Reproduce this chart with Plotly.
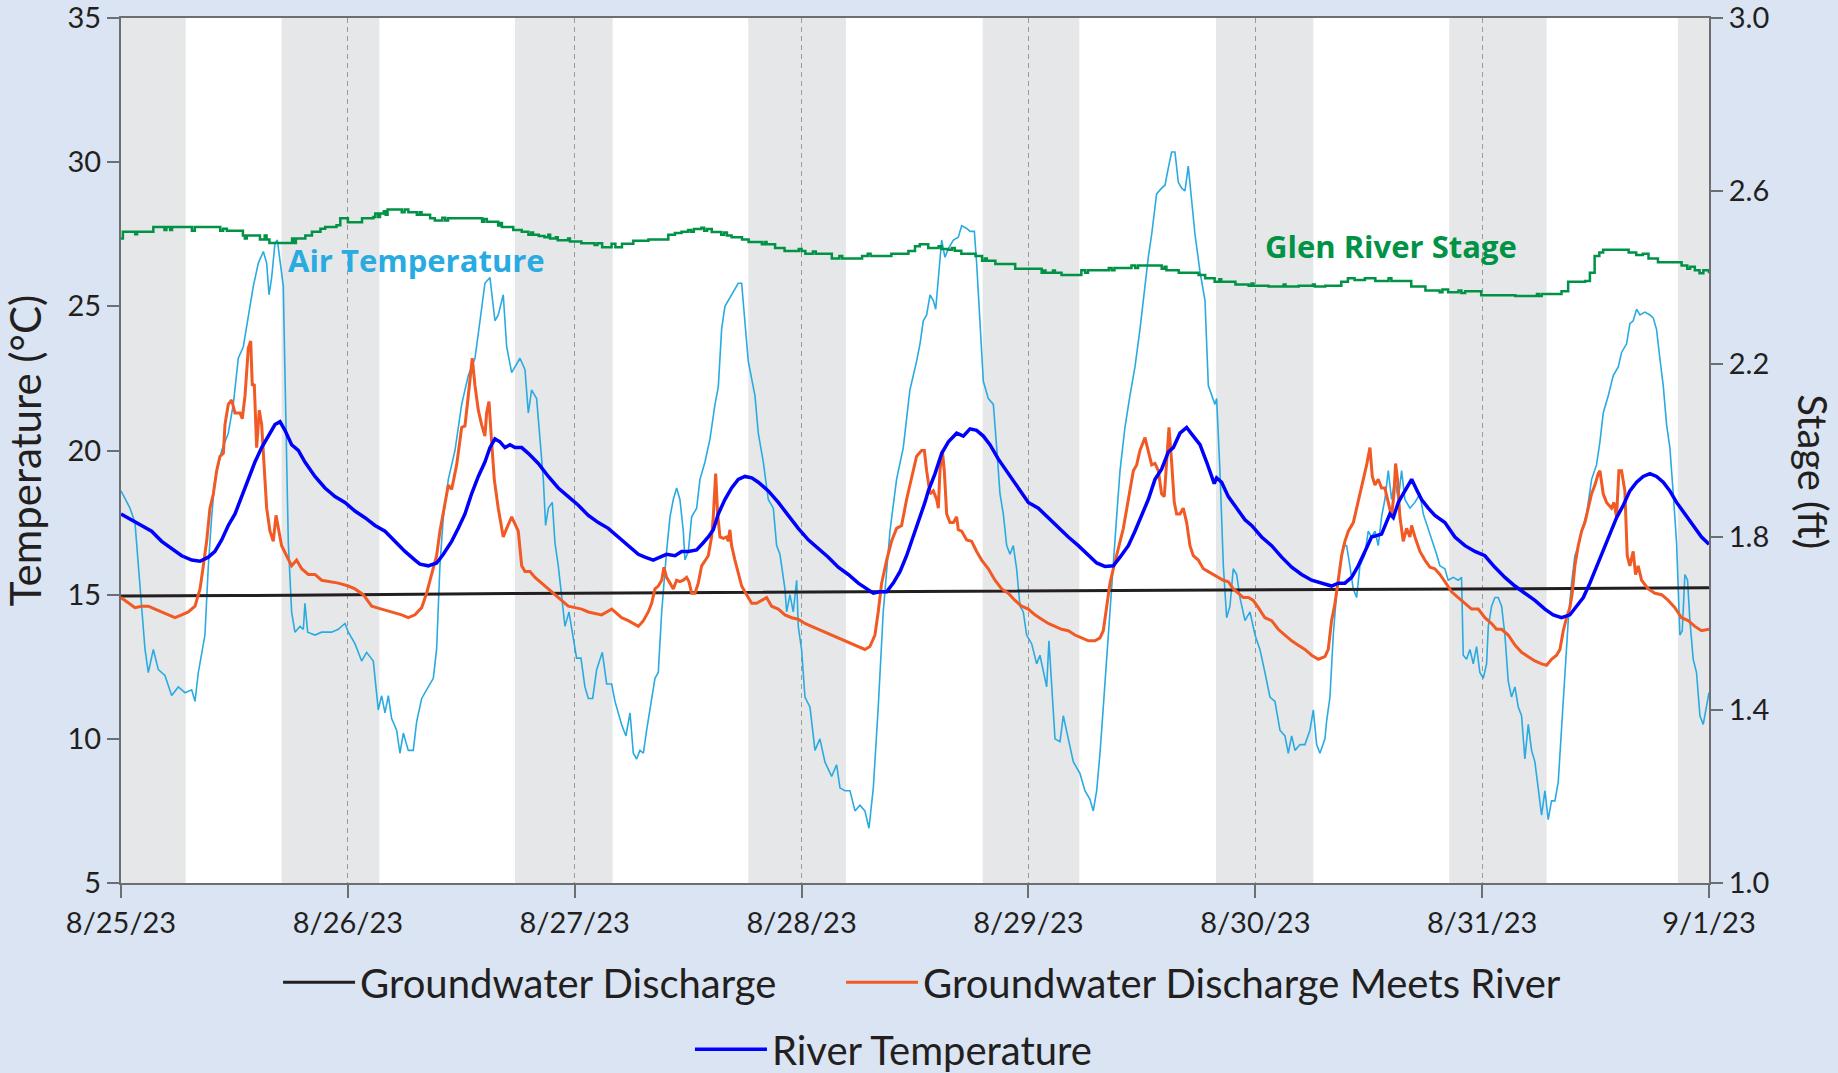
import pandas as pd
import plotly.graph_objects as go

START = pd.Timestamp("2023-08-25 00:00")

# ---------------- data (hours since 8/25/23 00:00, values) ----------------
air_hours = [0.0, 0.95, 1.48, 1.83, 2.19, 2.54, 2.89, 3.42, 3.95, 4.65, 5.36, 6.06, 6.77, 7.48, 7.83, 8.18, 8.88, 9.24, 9.59, 9.94,
             10.65, 11.35, 11.88, 12.41, 12.94, 13.47, 14.0, 14.53, 15.06, 15.41, 15.66, 15.94, 16.29, 16.54, 16.82, 17.17, 17.35, 17.52, 17.7, 18.05,
             18.4, 18.93, 19.29, 19.46, 19.75, 20.52, 21.23, 22.28, 22.99, 23.69, 24.05, 24.75, 25.46, 25.99, 26.69, 27.22, 27.57, 27.93, 28.28, 28.63,
             29.16, 29.51, 29.87, 30.39, 30.92, 31.28, 31.81, 32.51, 33.04, 33.39, 33.74, 34.1, 34.63, 35.33, 36.04, 36.74, 37.45, 37.98, 38.5, 39.03,
             39.56, 39.91, 40.44, 40.8, 41.33, 42.21, 42.74, 43.09, 43.44, 43.97, 44.32, 44.68, 44.92, 45.21, 45.63, 45.91, 46.26, 46.62, 46.97, 47.39,
             47.85, 48.2, 48.66, 49.08, 49.44, 49.9, 50.32, 50.92, 51.38, 51.91, 52.26, 52.96, 53.42, 53.85, 54.2, 54.55, 54.9, 55.26, 55.61, 56.14,
             56.49, 56.84, 57.2, 57.72, 58.08, 58.43, 58.78, 59.13, 59.49, 59.66, 60.02, 60.37, 60.9, 61.25, 61.78, 62.31, 62.84, 63.19, 63.54, 63.89,
             64.25, 64.78, 65.3, 65.66, 66.01, 66.36, 66.89, 67.07, 67.42, 67.95, 68.48, 69.01, 69.36, 69.71, 70.24, 70.42, 70.77, 71.12, 71.48, 71.65,
             72.0, 72.36, 72.89, 73.42, 73.94, 74.47, 75.18, 75.71, 76.06, 76.59, 77.12, 77.65, 78.17, 78.7, 79.13, 79.59, 80.11, 80.64, 81.35, 82.05,
             82.76, 83.46, 84.17, 84.53, 84.88, 85.23, 85.59, 85.94, 86.19, 86.47, 86.82, 87.17, 87.53, 88.06, 88.58, 88.94, 89.47, 89.82, 90.28, 90.52,
             90.88, 91.23, 91.76, 92.29, 92.64, 92.99, 93.34, 93.7, 94.05, 94.4, 94.75, 95.11, 95.46, 95.81, 96.34, 96.87, 97.22, 97.58, 97.93, 98.17,
             98.46, 98.81, 99.34, 99.69, 100.22, 100.75, 101.45, 101.98, 102.51, 102.86, 103.22, 103.57, 103.92, 104.27, 104.63, 104.98, 105.33, 105.69, 106.21, 106.74,
             107.27, 107.8, 108.33, 108.68, 109.04, 109.56, 110.09, 110.45, 110.8, 111.15, 111.5, 111.86, 112.21, 112.56, 112.91, 113.27, 113.62, 114.15, 114.68, 115.03,
             115.38, 115.73, 115.91, 116.26, 116.62, 116.97, 117.32, 117.67, 118.03, 118.38, 118.91, 119.44, 119.97, 120.49, 121.02, 121.55, 122.08, 122.61, 123.14, 123.49,
             123.85, 124.2, 124.73, 125.25, 125.78, 126.14, 126.49, 126.84, 127.37, 127.54, 127.9, 128.25, 128.6, 128.95, 129.31, 129.66, 130.01, 130.36, 130.72, 131.07,
             131.6, 131.95, 132.3, 132.66, 133.01, 133.36, 133.71, 134.07, 134.42, 134.77, 135.13, 135.48, 135.83, 136.36, 136.89, 137.42, 137.77, 138.3, 138.83, 139.18,
             139.53, 140.06, 140.41, 140.94, 141.47, 141.82, 142.0, 142.35, 142.71, 143.06, 143.41, 143.76, 144.12, 144.47, 144.65, 145.0, 145.35, 145.7, 146.06, 146.41,
             146.76, 147.11, 147.47, 147.82, 148.17, 148.52, 148.88, 149.23, 149.58, 149.93, 150.29, 150.64, 150.99, 151.34, 151.7, 152.05, 152.4, 152.76, 153.11, 153.46,
             153.81, 154.17, 154.52, 155.05, 155.58, 156.1, 156.46, 156.81, 157.34, 157.87, 158.4, 158.75, 159.28, 159.63, 159.98, 160.34, 160.69, 161.22, 161.75, 162.1,
             162.45, 162.8, 163.16, 163.51, 163.86, 164.22, 164.57, 164.92, 165.17, 165.45, 165.73, 165.98, 166.33, 166.68, 167.04, 167.39, 167.74, 168.0]
air_temp = [18.6, 18.0, 17.5, 16.0, 14.4, 13.1, 12.3, 13.1, 12.4, 12.2, 11.5, 11.8, 11.6, 11.7, 11.3, 12.3, 13.6, 16.0, 17.7, 19.0,
            20.0, 20.6, 21.6, 23.2, 23.6, 24.7, 25.7, 26.5, 26.9, 26.5, 25.4, 26.0, 27.2, 27.3, 26.5, 25.7, 22.6, 19.3, 16.8, 14.4,
            13.7, 13.9, 13.8, 14.7, 13.7, 13.6, 13.7, 13.7, 13.8, 14.0, 13.7, 13.3, 12.7, 13.0, 12.7, 11.0, 11.5, 10.9, 11.5, 10.7,
            10.3, 9.5, 10.2, 9.6, 9.6, 10.6, 11.4, 11.8, 12.1, 13.1, 16.0, 17.7, 19.0, 20.0, 21.6, 22.6, 23.2, 24.5, 25.8, 26.0,
            24.5, 24.7, 25.4, 23.6, 22.7, 23.2, 22.8, 21.3, 22.1, 21.8, 20.3, 19.0, 17.4, 18.0, 18.2, 16.8, 16.0, 15.0, 13.9, 14.4,
            13.4, 12.8, 12.8, 11.8, 11.4, 11.4, 12.4, 13.0, 11.9, 11.9, 11.3, 10.5, 10.1, 10.9, 9.5, 9.3, 9.6, 9.5, 10.3, 11.45,
            12.1, 12.3, 14.4, 16.5, 17.7, 18.3, 18.7, 18.3, 17.2, 16.2, 16.5, 17.7, 18.0, 19.0, 19.6, 20.4, 21.6, 22.2, 24.2, 25.0,
            25.2, 25.5, 25.8, 25.8, 24.5, 23.1, 22.2, 21.9, 20.6, 19.6, 18.3, 18.0, 16.7, 16.4, 15.2, 14.4, 15.0, 14.4, 15.5, 13.9,
            13.1, 11.45, 11.1, 9.6, 10.0, 9.2, 8.7, 9.1, 8.3, 8.2, 8.2, 7.5, 7.7, 7.5, 6.9, 8.3, 11.1, 14.4, 17.2, 19.0,
            20.1, 22.1, 23.1, 23.7, 24.5, 24.7, 25.4, 25.2, 24.9, 26.0, 27.3, 26.7, 27.0, 27.3, 27.4, 27.8, 27.7, 27.6, 27.6, 26.5,
            24.2, 22.4, 21.8, 21.6, 20.1, 18.5, 17.8, 16.7, 16.4, 16.7, 15.9, 14.6, 14.4, 13.6, 13.3, 12.6, 12.9, 12.3, 11.8, 13.4,
            12.0, 10.0, 9.9, 10.8, 10.0, 9.2, 8.8, 8.2, 7.9, 7.5, 8.2, 9.5, 11.1, 12.8, 14.4, 16.0, 17.7, 19.3, 20.8, 21.9,
            22.9, 24.2, 25.85, 26.7, 27.5, 28.9, 29.1, 29.2, 29.8, 30.35, 30.35, 29.3, 29.1, 29.0, 29.86, 28.6, 27.5, 26.2, 25.2, 22.25,
            21.9, 21.6, 21.8, 19.3, 16.0, 14.2, 14.6, 15.9, 15.7, 14.9, 14.1, 14.4, 13.6, 13.1, 12.3, 11.45, 11.3, 10.3, 10.1, 9.5,
            10.1, 9.6, 9.8, 9.8, 10.3, 11.0, 9.8, 9.5, 10.0, 10.6, 11.45, 13.6, 15.05, 16.0, 16.7, 16.7, 16.0, 15.2, 14.9, 16.0,
            16.4, 17.2, 17.0, 17.2, 16.7, 17.7, 18.3, 19.3, 18.3, 19.0, 18.3, 19.3, 18.3, 18.0, 18.2, 18.5, 17.8, 17.3, 16.8, 16.4,
            16.0, 15.9, 15.5, 15.6, 15.5, 15.6, 12.9, 12.76, 13.1, 12.6, 13.2, 12.3, 12.1, 12.6, 13.9, 14.6, 14.9, 14.9, 14.6, 13.6,
            12.0, 11.45, 11.8, 11.1, 10.8, 9.3, 10.5, 9.6, 9.2, 8.2, 7.35, 8.2, 7.2, 7.85, 7.85, 8.5, 10.3, 12.0, 14.1, 15.4,
            16.35, 16.7, 17.2, 17.8, 19.0, 19.5, 20.3, 21.3, 21.9, 22.6, 22.9, 23.4, 23.7, 24.4, 24.5, 24.9, 24.7, 24.8, 24.7, 24.6,
            24.2, 23.2, 22.25, 20.9, 20.1, 18.5, 16.8, 13.6, 13.75, 15.7, 15.5, 14.1, 12.76, 12.3, 10.8, 10.5, 11.1, 11.6]

gw_hours = [0, 6, 12, 18, 24, 30, 36, 42, 48, 54, 60, 66, 72, 78, 84, 90, 96, 102, 108, 114, 120, 126, 132, 138, 144, 150, 156, 162, 168]
gw_temp = [14.95, 14.95, 14.97, 14.98, 15.0, 15.02, 15.03, 15.04, 15.05, 15.06, 15.06, 15.08, 15.08, 15.1, 15.1, 15.12, 15.12, 15.13, 15.15,
           15.16, 15.18, 15.18, 15.2, 15.21, 15.22, 15.22, 15.23, 15.24, 15.24]

meet_hours = [0.0, 0.78, 1.48, 2.19, 2.89, 3.6, 4.3, 5.01, 5.71, 6.42, 7.12, 7.83, 8.36, 8.71, 9.06, 9.41, 9.77, 10.12, 10.47, 10.83,
              11.0, 11.35, 11.71, 12.06, 12.59, 12.83, 13.12, 13.47, 13.72, 13.89, 14.1, 14.35, 14.63, 14.88, 15.16, 15.41, 15.76, 16.11, 16.4, 16.64,
              16.99, 17.52, 18.05, 18.58, 19.11, 19.82, 20.52, 21.23, 22.11, 22.99, 24.05, 24.75, 25.63, 26.52, 27.57, 28.63, 29.69, 30.39, 31.1, 31.81,
              32.33, 32.86, 33.39, 33.74, 34.1, 34.63, 34.98, 35.51, 36.04, 36.39, 36.74, 37.02, 37.16, 37.45, 37.8, 38.15, 38.5, 38.68, 38.93, 39.21,
              39.49, 39.91, 40.44, 40.8, 41.33, 42.03, 42.39, 42.74, 43.27, 43.8, 44.5, 45.21, 45.91, 46.62, 47.32, 48.03, 48.73, 49.44, 50.14, 50.85,
              51.38, 51.91, 52.26, 52.96, 53.67, 54.2, 54.73, 55.26, 55.78, 56.14, 56.49, 56.84, 57.2, 57.44, 57.72, 58.08, 58.43, 58.78, 59.13, 59.49,
              59.84, 60.09, 60.37, 60.72, 61.07, 61.43, 61.78, 62.13, 62.48, 62.66, 62.91, 63.12, 63.37, 63.72, 64.07, 64.25, 64.42, 64.6, 64.95, 65.3,
              65.66, 66.19, 66.72, 67.24, 67.77, 68.3, 68.83, 69.54, 70.24, 70.95, 71.65, 72.36, 73.06, 73.77, 74.47, 75.18, 75.88, 76.59, 77.29, 78.0,
              78.7, 79.23, 79.76, 80.11, 80.47, 81.0, 81.52, 82.05, 82.58, 83.11, 83.64, 84.17, 84.7, 84.99, 85.23, 85.59, 85.94, 86.29, 86.47, 86.64,
              86.89, 87.1, 87.35, 87.7, 88.06, 88.41, 88.58, 88.94, 89.47, 89.99, 90.52, 91.05, 91.76, 92.46, 93.17, 93.87, 94.58, 95.28, 95.99, 96.69,
              97.4, 98.1, 98.81, 99.51, 100.22, 100.92, 101.63, 102.34, 103.04, 103.57, 103.92, 104.27, 104.63, 104.98, 105.33, 105.69, 106.04, 106.57, 107.1, 107.45,
              107.8, 108.33, 108.68, 109.04, 109.39, 109.74, 110.09, 110.37, 110.62, 110.87, 111.15, 111.43, 111.68, 112.03, 112.38, 112.74, 113.09, 113.44, 113.97, 114.5,
              115.03, 115.56, 116.09, 116.62, 117.15, 117.67, 118.2, 118.73, 119.26, 119.79, 120.32, 121.02, 121.73, 122.43, 123.14, 123.85, 124.55, 125.25, 125.96, 126.67,
              127.37, 127.72, 128.07, 128.43, 128.78, 129.13, 129.48, 129.84, 130.37, 130.89, 131.42, 131.78, 132.13, 132.38, 132.66, 133.01, 133.36, 133.71, 134.07, 134.42,
              134.67, 134.84, 135.05, 135.3, 135.65, 136.01, 136.36, 136.54, 136.89, 137.42, 137.95, 138.48, 139.0, 139.53, 140.06, 140.77, 141.47, 142.18, 142.88, 143.59,
              144.29, 145.0, 145.53, 146.06, 146.76, 147.47, 148.17, 148.88, 149.58, 150.29, 150.82, 151.34, 151.87, 152.23, 152.58, 152.93, 153.28, 153.53, 153.81, 154.17,
              154.52, 154.87, 155.22, 155.58, 155.93, 156.28, 156.46, 156.81, 157.16, 157.69, 157.94, 158.22, 158.47, 158.75, 159.1, 159.35, 159.63, 159.98, 160.23, 160.51,
              160.87, 161.57, 162.28, 162.98, 163.69, 164.39, 165.1, 165.8, 166.51, 167.21, 168.0]
meet_temp = [14.9, 14.7, 14.55, 14.6, 14.6, 14.5, 14.4, 14.3, 14.2, 14.3, 14.4, 14.6, 15.2, 16.0, 16.85, 18.0, 18.5, 19.3, 19.8, 19.9,
             20.9, 21.6, 21.75, 21.3, 21.3, 21.1, 21.9, 23.55, 23.8, 22.25, 22.3, 20.1, 21.4, 20.9, 19.3, 18.0, 17.2, 16.85, 17.75, 17.3,
             16.7, 16.35, 16.0, 16.2, 15.9, 15.7, 15.7, 15.5, 15.45, 15.4, 15.3, 15.2, 15.0, 14.6, 14.5, 14.4, 14.3, 14.2, 14.3, 14.55,
             15.05, 15.7, 16.35, 17.2, 17.8, 18.8, 18.65, 19.5, 20.8, 20.85, 21.9, 22.7, 23.2, 22.25, 21.4, 20.9, 20.5, 21.3, 21.7, 20.3,
             19.0, 18.0, 17.0, 17.3, 17.7, 17.2, 16.0, 15.8, 15.8, 15.6, 15.4, 15.2, 15.0, 14.8, 14.6, 14.55, 14.5, 14.4, 14.35, 14.3,
             14.4, 14.5, 14.4, 14.2, 14.1, 14.0, 13.9, 14.1, 14.4, 14.7, 15.2, 15.3, 15.5, 15.95, 15.6, 15.4, 15.2, 15.5, 15.45, 15.5,
             15.6, 15.45, 15.05, 15.05, 15.4, 16.0, 16.2, 16.35, 17.0, 17.7, 19.2, 17.8, 17.0, 16.95, 17.0, 16.85, 17.25, 16.7, 16.2, 15.7,
             15.3, 15.0, 14.7, 14.7, 14.8, 14.9, 14.6, 14.5, 14.3, 14.2, 14.15, 14.0, 13.9, 13.8, 13.7, 13.6, 13.5, 13.4, 13.3, 13.2,
             13.1, 13.2, 13.6, 14.4, 15.4, 16.2, 16.85, 17.3, 17.4, 18.3, 19.0, 19.8, 20.0, 20.0, 19.3, 18.5, 18.6, 18.3, 18.0, 19.3,
             20.0, 19.3, 17.8, 17.5, 17.5, 17.7, 17.25, 17.2, 16.9, 16.85, 16.5, 16.2, 15.9, 15.5, 15.2, 15.05, 14.8, 14.6, 14.5, 14.3,
             14.15, 14.0, 13.9, 13.8, 13.75, 13.6, 13.5, 13.4, 13.4, 13.5, 13.75, 14.55, 15.4, 15.9, 16.35, 16.85, 17.3, 18.3, 19.3, 19.5,
             20.0, 20.45, 20.0, 19.5, 19.55, 19.3, 18.5, 18.4, 19.6, 20.8, 19.6, 18.2, 17.8, 17.8, 18.0, 17.5, 16.7, 16.35, 16.2, 15.9,
             15.8, 15.7, 15.6, 15.5, 15.45, 15.2, 15.05, 14.9, 14.9, 14.8, 14.55, 14.2, 14.1, 13.8, 13.6, 13.4, 13.25, 13.1, 12.9, 12.76,
             12.85, 13.1, 14.1, 14.7, 15.5, 16.35, 16.85, 17.2, 17.5, 18.2, 19.0, 19.5, 20.1, 19.1, 18.8, 19.0, 18.7, 18.7, 18.2, 17.7,
             18.5, 19.55, 19.0, 17.7, 16.85, 17.3, 17.0, 17.4, 17.0, 16.5, 16.2, 15.95, 15.9, 15.7, 15.45, 15.1, 14.9, 14.7, 14.5, 14.5,
             14.2, 14.0, 13.8, 13.8, 13.6, 13.25, 13.0, 12.85, 12.7, 12.6, 12.55, 12.76, 12.9, 13.1, 13.75, 14.2, 14.55, 15.05, 16.0, 16.7,
             17.2, 17.5, 18.0, 18.5, 18.8, 19.2, 19.3, 18.5, 18.2, 18.0, 18.2, 17.7, 19.3, 19.3, 18.6, 16.35, 16.0, 16.5, 15.7, 16.0,
             15.5, 15.2, 15.05, 15.0, 14.8, 14.55, 14.2, 14.1, 13.9, 13.75, 13.8]

river_hours = [0.0, 1.13, 2.19, 3.24, 4.3, 5.36, 6.42, 7.48, 8.36, 9.24, 9.94, 10.65, 11.35, 12.06, 12.76, 13.47, 14.17, 14.88, 15.59, 16.29,
               16.82, 17.35, 18.05, 18.76, 19.46, 20.52, 21.58, 22.64, 23.69, 24.75, 25.81, 26.87, 27.93, 28.98, 30.04, 31.1, 31.63, 32.51, 33.39, 34.1,
               34.98, 35.68, 36.39, 37.09, 37.8, 38.5, 39.03, 39.56, 40.09, 40.62, 41.15, 41.68, 42.39, 43.09, 44.15, 45.21, 46.26, 47.32, 48.38, 49.44,
               50.5, 51.55, 52.61, 53.67, 54.73, 55.43, 56.31, 57.02, 57.72, 58.61, 59.31, 60.02, 60.9, 61.6, 62.13, 62.66, 63.19, 63.89, 64.6, 65.3,
               66.01, 66.72, 67.42, 68.48, 69.54, 70.59, 71.65, 72.71, 73.77, 74.83, 75.88, 76.94, 78.0, 78.88, 79.59, 80.29, 81.0, 81.7, 82.41, 83.11,
               83.82, 84.52, 85.05, 85.41, 86.12, 86.82, 87.53, 88.41, 89.11, 89.82, 90.52, 91.23, 91.93, 92.82, 93.87, 94.93, 95.99, 97.05, 98.1, 99.16,
               100.22, 101.28, 102.34, 103.22, 104.1, 104.98, 105.69, 106.57, 107.27, 107.98, 108.68, 109.39, 110.09, 110.8, 111.33, 112.03, 112.74, 113.44, 114.15, 114.85,
               115.38, 115.66, 115.91, 116.44, 117.15, 118.03, 118.91, 119.61, 120.67, 121.73, 122.79, 123.85, 124.9, 125.96, 127.02, 128.07, 128.78, 129.48, 130.19, 130.89,
               131.6, 132.3, 133.36, 133.89, 134.24, 134.6, 135.13, 135.83, 136.54, 137.06, 137.59, 138.3, 139.0, 140.06, 141.12, 142.18, 143.24, 144.29, 145.35, 146.41,
               147.47, 148.52, 149.58, 150.64, 151.52, 152.4, 153.28, 153.99, 154.7, 155.4, 156.1, 156.81, 157.52, 158.22, 158.93, 159.63, 160.34, 161.04, 161.75, 162.45,
               163.16, 163.86, 164.57, 165.45, 166.33, 167.21, 168.0]
river_temp = [17.8, 17.6, 17.4, 17.2, 16.85, 16.6, 16.35, 16.2, 16.16, 16.3, 16.5, 16.9, 17.4, 17.8, 18.4, 19.0, 19.6, 20.1, 20.5, 20.9,
              21.0, 20.7, 20.2, 20.0, 19.6, 19.1, 18.7, 18.4, 18.2, 17.9, 17.67, 17.4, 17.2, 16.85, 16.5, 16.2, 16.06, 16.0, 16.1, 16.4,
              16.85, 17.3, 17.8, 18.5, 19.1, 19.6, 20.1, 20.4, 20.3, 20.1, 20.2, 20.1, 20.1, 19.9, 19.55, 19.1, 18.7, 18.4, 18.1, 17.75,
              17.5, 17.3, 17.0, 16.7, 16.4, 16.3, 16.2, 16.3, 16.4, 16.35, 16.5, 16.5, 16.55, 16.8, 17.0, 17.25, 17.8, 18.3, 18.7, 19.0,
              19.1, 19.05, 18.9, 18.6, 18.2, 17.75, 17.3, 16.9, 16.6, 16.3, 15.95, 15.7, 15.4, 15.2, 15.05, 15.1, 15.1, 15.4, 15.8, 16.35,
              17.0, 17.67, 18.2, 18.6, 19.2, 19.9, 20.3, 20.6, 20.5, 20.75, 20.7, 20.5, 20.2, 19.7, 19.2, 18.7, 18.2, 18.0, 17.67, 17.3,
              17.0, 16.7, 16.35, 16.1, 15.98, 16.0, 16.3, 16.7, 17.2, 17.75, 18.3, 19.0, 19.35, 19.95, 20.1, 20.6, 20.8, 20.5, 20.2, 19.6,
              19.1, 18.85, 19.05, 18.9, 18.4, 18.0, 17.6, 17.4, 17.0, 16.7, 16.3, 15.95, 15.7, 15.5, 15.4, 15.3, 15.4, 15.4, 15.6, 16.0,
              16.5, 17.0, 17.1, 17.5, 17.8, 17.67, 18.2, 18.6, 19.0, 18.65, 18.3, 18.0, 17.75, 17.5, 17.0, 16.7, 16.5, 16.35, 15.95, 15.6,
              15.3, 15.05, 14.8, 14.5, 14.3, 14.2, 14.3, 14.6, 14.9, 15.4, 15.95, 16.5, 17.1, 17.67, 18.1, 18.6, 18.9, 19.1, 19.2, 19.1,
              18.9, 18.6, 18.2, 17.8, 17.4, 17.0, 16.75]

stage_hours = [0.0, 0.2, 1.5, 1.7, 3.42, 4.6, 4.8, 5.2, 5.4, 7.5, 7.8, 10.5, 10.8, 11.2, 12.9, 13.1, 13.3, 14.7, 15.2, 15.4,
               15.7, 18.1, 18.3, 18.5, 19.5, 20.2, 21.1, 21.6, 22.8, 23.2, 24.0, 25.5, 26.7, 26.9, 27.2, 27.4, 27.8, 28.0, 28.2, 29.7,
               30.0, 30.4, 31.3, 31.6, 31.8, 32.7, 33.2, 34.0, 34.3, 34.6, 38.2, 38.4, 38.7, 39.9, 40.1, 40.3, 41.5, 42.4, 43.1, 43.4,
               43.6, 44.2, 44.8, 45.2, 45.4, 46.0, 46.2, 47.3, 47.5, 48.7, 50.1, 50.4, 50.9, 51.9, 52.3, 53.0, 54.2, 55.8, 57.9, 58.6,
               59.3, 60.0, 60.3, 60.6, 61.4, 61.7, 62.0, 62.5, 63.5, 63.8, 64.1, 64.6, 65.7, 66.4, 67.8, 68.1, 68.3, 69.2, 70.2, 71.7,
               72.0, 72.4, 73.2, 73.5, 75.2, 76.0, 76.3, 78.4, 79.0, 79.3, 81.5, 83.3, 84.0, 84.5, 85.4, 86.5, 86.8, 87.5, 87.9, 88.2,
               88.9, 90.4, 91.1, 91.4, 91.6, 92.5, 94.6, 97.4, 97.6, 97.8, 98.6, 98.8, 99.5, 101.6, 102.0, 102.3, 104.5, 104.8, 105.1, 106.9,
               107.3, 107.6, 110.1, 110.4, 110.6, 111.9, 114.0, 114.7, 115.7, 116.2, 116.4, 117.9, 119.3, 119.6, 119.8, 121.4, 123.0, 123.2, 124.6, 126.1,
               126.3, 127.4, 129.1, 129.8, 130.5, 131.6, 132.7, 134.1, 134.4, 136.5, 138.0, 139.5, 139.8, 140.4, 141.5, 141.8, 142.2, 143.9, 147.5, 149.8,
               150.0, 150.3, 152.4, 153.1, 154.9, 155.4, 155.9, 156.4, 156.8, 159.5, 160.3, 161.0, 161.6, 162.6, 165.1, 165.7, 166.0, 166.5, 167.0, 167.4,
               168.0]
stage_ft = [2.49, 2.506, 2.5, 2.506, 2.517, 2.51, 2.517, 2.51, 2.517, 2.508, 2.517, 2.508, 2.513, 2.508, 2.497, 2.49, 2.497, 2.488, 2.497, 2.488,
            2.48, 2.49, 2.48, 2.49, 2.497, 2.506, 2.513, 2.517, 2.521, 2.537, 2.528, 2.537, 2.54, 2.548, 2.54, 2.548, 2.553, 2.545, 2.557, 2.551,
            2.557, 2.551, 2.545, 2.551, 2.545, 2.537, 2.532, 2.538, 2.532, 2.537, 2.529, 2.535, 2.529, 2.52, 2.526, 2.517, 2.51, 2.506, 2.499, 2.504,
            2.499, 2.496, 2.493, 2.499, 2.49, 2.493, 2.486, 2.49, 2.483, 2.479, 2.475, 2.479, 2.47, 2.478, 2.47, 2.478, 2.485, 2.488, 2.499, 2.503,
            2.506, 2.51, 2.506, 2.512, 2.515, 2.508, 2.512, 2.505, 2.499, 2.504, 2.497, 2.493, 2.488, 2.482, 2.477, 2.482, 2.477, 2.468, 2.461, 2.466,
            2.461, 2.455, 2.46, 2.455, 2.444, 2.45, 2.444, 2.45, 2.455, 2.45, 2.455, 2.461, 2.472, 2.477, 2.468, 2.472, 2.466, 2.464, 2.468, 2.462,
            2.455, 2.45, 2.439, 2.444, 2.439, 2.431, 2.42, 2.411, 2.416, 2.411, 2.416, 2.411, 2.406, 2.417, 2.411, 2.417, 2.422, 2.417, 2.422, 2.428,
            2.422, 2.428, 2.42, 2.425, 2.417, 2.411, 2.406, 2.398, 2.39, 2.396, 2.39, 2.384, 2.381, 2.386, 2.381, 2.379, 2.384, 2.379, 2.381, 2.384,
            2.379, 2.381, 2.39, 2.398, 2.394, 2.398, 2.392, 2.398, 2.392, 2.379, 2.37, 2.366, 2.372, 2.366, 2.37, 2.364, 2.368, 2.359, 2.357, 2.362,
            2.357, 2.362, 2.368, 2.39, 2.392, 2.411, 2.45, 2.458, 2.464, 2.458, 2.452, 2.455, 2.444, 2.435, 2.428, 2.42, 2.425, 2.417, 2.41, 2.417,
            2.41]

night_start_h = [0.0, 16.99, 41.68, 66.36, 91.16, 115.84, 140.52, 164.7]
night_end_h = [6.84, 27.33, 52.01, 76.69, 101.38, 126.14, 150.82, 168.0]

date_ticks = ["8/25/23", "8/26/23", "8/27/23", "8/28/23", "8/29/23", "8/30/23", "8/31/23", "9/1/23"]


def to_time(hours):
    return START + pd.to_timedelta(pd.Series(hours, dtype=float), unit="h")


FONT = "Lato"
TXT = "#231F20"
AXC = "#6D6E71"

fig = go.Figure()

fig.add_trace(go.Scatter(x=to_time(air_hours), y=air_temp, mode="lines", name="Air Temperature",
                         line=dict(color="#29ABE2", width=1.6), showlegend=False))
fig.add_trace(go.Scatter(x=to_time(stage_hours), y=stage_ft, mode="lines", name="Glen River Stage",
                         line=dict(color="#009245", width=2.5, shape="hv"), yaxis="y2", showlegend=False))
fig.add_trace(go.Scatter(x=to_time(gw_hours), y=gw_temp, mode="lines", name="Groundwater Discharge",
                         line=dict(color=TXT, width=3), legend="legend", legendwidth=476))
fig.add_trace(go.Scatter(x=to_time(meet_hours), y=meet_temp, mode="lines", name="Groundwater Discharge Meets River",
                         line=dict(color="#F15A24", width=3), legend="legend"))
fig.add_trace(go.Scatter(x=to_time(river_hours), y=river_temp, mode="lines", name="River Temperature",
                         line=dict(color="#0000FF", width=3.5), legend="legend2"))

shapes = []
for s, e in zip(night_start_h, night_end_h):
    shapes.append(dict(type="rect", xref="x", yref="paper",
                       x0=START + pd.Timedelta(hours=s), x1=START + pd.Timedelta(hours=e),
                       y0=0, y1=1, fillcolor="#E6E7E8", line=dict(width=0), layer="below"))

tick_times = [START + pd.Timedelta(days=i) for i in range(len(date_ticks))]

fig.update_layout(
    width=1838, height=1073,
    paper_bgcolor="#DAE4F2", plot_bgcolor="#FFFFFF",
    font=dict(family=FONT, color=TXT, size=29),
    margin=dict(l=121, r=129, t=18, b=190, autoexpand=False),
    shapes=shapes,
    xaxis=dict(type="date", range=[tick_times[0], tick_times[-1]],
               tickmode="array", tickvals=tick_times, ticktext=date_ticks,
               ticks="outside", ticklen=13, tickwidth=1.5, tickcolor=AXC,
               showline=True, linecolor=AXC, linewidth=2, mirror=True,
               showgrid=True, gridcolor="#9A9A9A", gridwidth=1, griddash="5px,4px",
               tickfont=dict(family=FONT, size=29, color=TXT), zeroline=False),
    yaxis=dict(range=[5, 35], tick0=5, dtick=5, ticks="outside", ticklen=12, tickwidth=1.5, tickcolor=AXC,
               showline=True, linecolor=AXC, linewidth=2, showgrid=False, zeroline=False,
               ticklabeloverflow="allow",
               tickfont=dict(family=FONT, size=29, color=TXT),
               title=dict(text="Temperature (°C)", font=dict(family=FONT, size=42, color=TXT), standoff=18)),
    yaxis2=dict(range=[1.0, 3.0], tick0=1.0, dtick=0.4, tickformat=".1f", overlaying="y", side="right",
                ticks="outside", ticklen=12, tickwidth=1.5, tickcolor=AXC,
                showline=True, linecolor=AXC, linewidth=2, showgrid=False, zeroline=False,
                ticklabeloverflow="allow",
                tickfont=dict(family=FONT, size=29, color=TXT)),
    legend=dict(orientation="h", x=0.0989, xanchor="left", y=-0.1148, yanchor="middle",
                font=dict(family=FONT, size=40, color=TXT), bgcolor="rgba(0,0,0,0)", itemwidth=72),
    legend2=dict(orientation="h", x=0.3583, xanchor="left", y=-0.1922, yanchor="middle",
                 font=dict(family=FONT, size=40, color=TXT), bgcolor="rgba(0,0,0,0)", itemwidth=72),
    annotations=[
        dict(text="<b>Air Temperature</b>", x=START + pd.Timedelta(hours=31.3), y=26.6, xref="x", yref="y",
             xanchor="center", yanchor="middle",
             showarrow=False, font=dict(family="Open Sans", size=31, color="#29ABE2")),
        dict(text="<b>Glen River Stage</b>", x=START + pd.Timedelta(hours=134.4), y=27.08, xref="x", yref="y",
             xanchor="center", yanchor="middle",
             showarrow=False, font=dict(family="Open Sans", size=31, color="#009245")),
        dict(text="Stage (ft)", x=1.0655, y=0.476, xref="paper", yref="paper", textangle=90,
             xanchor="center", yanchor="middle",
             showarrow=False, font=dict(family=FONT, size=40, color=TXT)),
    ],
)

fig.write_html("out.html",
               config={"displayModeBar": False},
               post_script="document.body.style.margin='0px';document.body.style.overflow='hidden';")
